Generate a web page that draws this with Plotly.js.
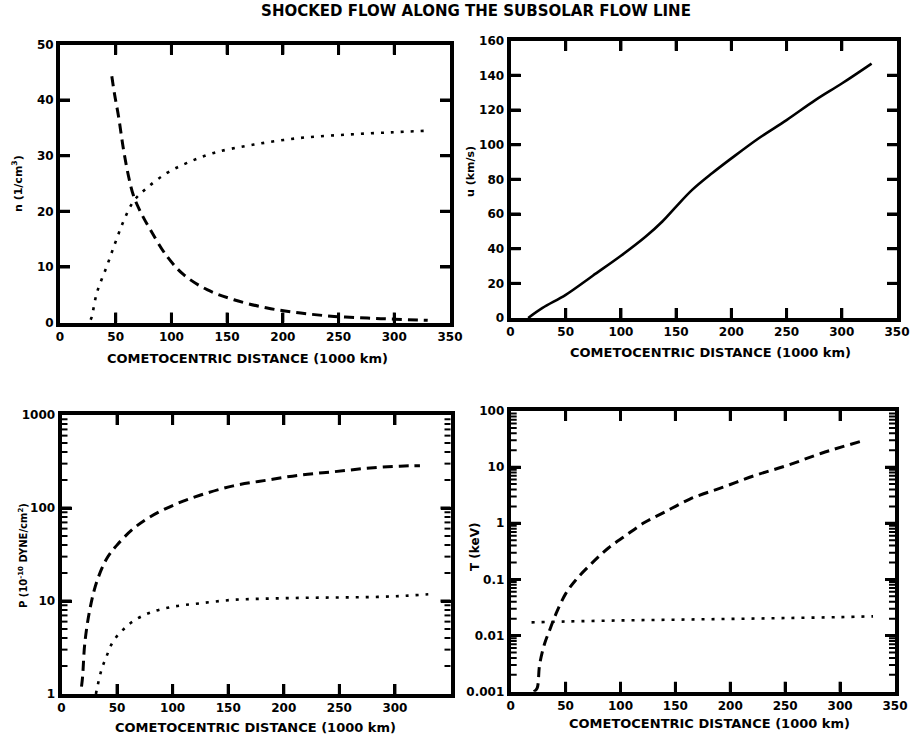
<!DOCTYPE html>
<html>
<head>
<meta charset="utf-8">
<script src="https://cdn.plot.ly/plotly-3.0.1.min.js"></script>
<style>html,body{margin:0;padding:0;background:#fff;}#chart{width:913px;height:741px;}</style>
</head>
<body>
<div id="chart"></div>
<script>
// ---- Data ----
// Panel 1: density n (1/cm^3)
const nDashX = [46.5, 49, 52.5, 57, 61.5, 66, 72, 81, 96, 111, 132, 156, 186, 216, 246, 276, 300, 330];
const nDashY = [44.3, 41, 37.1, 31.1, 26.3, 22.8, 20, 16.7, 11.9, 8.6, 5.9, 4.1, 2.6, 1.7, 1.1, 0.8, 0.6, 0.4];
const nDotX = [27.5, 28.5, 33, 42, 49.5, 57, 66, 78, 96, 114, 138, 174, 216, 258, 297, 330];
const nDotY = [0.5, 1, 5.3, 10.1, 14.3, 18.2, 21.8, 24.2, 26.9, 28.7, 30.5, 32, 33.2, 33.8, 34.2, 34.5];
// Panel 2: velocity u (km/s)
const uX = [16, 29, 50, 74.5, 100, 122.5, 137.5, 150, 164.5, 182.5, 200, 224.5, 250, 276, 300, 327];
const uY = [0, 5.8, 13.4, 24.4, 35.9, 47, 55.7, 64.3, 73.9, 83.5, 92.1, 103.6, 114.2, 125.7, 135.3, 146.8];
// Panel 3: pressure P (1e-10 dyne/cm^2)
const pDashX = [18, 19, 21, 25.5, 31.5, 40.5, 49.5, 64.5, 79.5, 100.5, 124.5, 154.5, 184.5, 214.5, 244.5, 274.5, 304.5, 322.5];
const pDashY = [1.2, 1.54, 3.54, 8.1, 15.8, 28.3, 39.4, 59.7, 80, 107, 137, 173, 199, 226, 245, 267, 282, 285];
const pDotX = [31, 32, 36, 40.5, 46.5, 55.5, 64.5, 79.5, 100.5, 124.5, 154.5, 184.5, 214.5, 244.5, 274.5, 304.5, 330];
const pDotY = [1.0, 1.15, 1.82, 2.54, 3.69, 4.93, 6.07, 7.48, 8.69, 9.44, 10.3, 10.6, 10.8, 10.9, 11.0, 11.3, 11.8];
// Panel 4: temperature T (keV)
const tDashX = [21, 24, 26.3, 30.7, 35.2, 41.2, 50.1, 59.1, 74, 89, 104, 121.8, 139.7, 163.6, 193.4, 223.3, 253, 283, 318.8];
const tDashY = [0.001, 0.00115, 0.003, 0.007, 0.0121, 0.0243, 0.0558, 0.097, 0.195, 0.363, 0.59, 1.03, 1.56, 2.72, 4.4, 7.2, 10.9, 17.7, 28.7];
const tDotX = [19, 50, 100, 150, 200, 250, 300, 330];
const tDotY = [0.0172, 0.0178, 0.0186, 0.0192, 0.0198, 0.0205, 0.0213, 0.0220];

// Tick values
const xTicks = [0, 50, 100, 150, 200, 250, 300, 350];
const xTicksP = [0, 50, 100, 150, 200, 250, 300];
const nTicks = [0, 10, 20, 30, 40, 50];
const uTicks = [0, 20, 40, 60, 80, 100, 120, 140, 160];
const pTicks = [1, 10, 100, 1000];
const tTicks = [0.001, 0.01, 0.1, 1, 10, 100];

const titleText = 'SHOCKED FLOW ALONG THE SUBSOLAR FLOW LINE';
const xTitle = 'COMETOCENTRIC DISTANCE (1000 km)';

// ---- Build ----
const W = 913, H = 741;
const px = x => x / W;
const py = y => 1 - y / H;

function minorLog(lo, hi) {
  const v = [];
  for (let e = lo; e < hi; e++) for (let m = 2; m <= 9; m++) v.push(m * Math.pow(10, e));
  return v;
}

const FONT = 'DejaVu Sans, Arial, sans-serif';
const dashStyle = {color: 'black', width: 3, dash: '10px,6px'};
const dotStyle = {color: 'black', width: 2.6, dash: '3px,7px'};

const traces = [
  {x: nDashX, y: nDashY, xaxis: 'x', yaxis: 'y', mode: 'lines', line: Object.assign({shape: 'spline'}, dashStyle)},
  {x: nDotX, y: nDotY, xaxis: 'x', yaxis: 'y', mode: 'lines', line: Object.assign({shape: 'spline'}, dotStyle)},
  {x: uX, y: uY, xaxis: 'x2', yaxis: 'y2', mode: 'lines', line: {color: 'black', width: 2.6, shape: 'spline'}},
  {x: pDashX, y: pDashY, xaxis: 'x3', yaxis: 'y3', mode: 'lines', line: Object.assign({shape: 'spline'}, dashStyle)},
  {x: pDotX, y: pDotY, xaxis: 'x3', yaxis: 'y3', mode: 'lines', line: Object.assign({shape: 'spline'}, dotStyle)},
  {x: tDashX, y: tDashY, xaxis: 'x4', yaxis: 'y4', mode: 'lines', line: Object.assign({shape: 'spline'}, dashStyle)},
  {x: tDotX, y: tDotY, xaxis: 'x4', yaxis: 'y4', mode: 'lines', line: Object.assign({shape: 'spline'}, dotStyle)}
];

const base = {
  showline: true, linewidth: 4, linecolor: 'black', mirror: 'ticks',
  ticks: 'inside', ticklen: 10, tickwidth: 3, tickcolor: 'black',
  showgrid: false, zeroline: false,
  tickfont: {family: FONT, size: 12, weight: 'bold', color: 'black'}
};

// panel domains (paper fractions)
const dX1 = [px(60), px(450)],    dY1 = [py(322.5), py(44.5)];
const dX2 = [px(510.5), px(897)], dY2 = [py(318), py(40.7)];
const dX3 = [px(61.5), px(450.5)], dY3 = [py(694), py(415)];
const dX4 = [px(510.7), px(895)], dY4 = [py(691.7), py(411)];

// inside tick marks on all four frame sides, placed through the axes' own scales
const shapes = [];
function xTickMarks(xref, vals, dY, len, w) {
  vals.forEach(v => {
    shapes.push({type: 'line', layer: 'above', xref: xref, yref: 'paper', x0: v, x1: v, y0: dY[0], y1: dY[0] + len / H, line: {color: 'black', width: w}});
    shapes.push({type: 'line', layer: 'above', xref: xref, yref: 'paper', x0: v, x1: v, y0: dY[1], y1: dY[1] - len / H, line: {color: 'black', width: w}});
  });
}
function yTickMarks(yref, vals, dX, len, w) {
  vals.forEach(v => {
    shapes.push({type: 'line', layer: 'above', xref: 'paper', yref: yref, x0: dX[0], x1: dX[0] + len / W, y0: v, y1: v, line: {color: 'black', width: w}});
    shapes.push({type: 'line', layer: 'above', xref: 'paper', yref: yref, x0: dX[1], x1: dX[1] - len / W, y0: v, y1: v, line: {color: 'black', width: w}});
  });
}
const inner = (arr) => arr.slice(1, -1);
xTickMarks('x', inner(xTicks), dY1, 10, 3);
xTickMarks('x2', inner(xTicks), dY2, 10, 3);
xTickMarks('x3', xTicksP.slice(1), dY3, 10, 3);
xTickMarks('x4', inner(xTicks), dY4, 10, 3);
yTickMarks('y', inner(nTicks), dX1, 10, 3);
yTickMarks('y2', inner(uTicks), dX2, 10, 3);
yTickMarks('y3', inner(pTicks), dX3, 10, 3);
yTickMarks('y4', inner(tTicks), dX4, 10, 3);
yTickMarks('y3', minorLog(0, 3), dX3, 6, 2);
yTickMarks('y4', minorLog(-3, 2), dX4, 6, 2);

const layout = {
  width: W, height: H,
  margin: {l: 0, r: 0, t: 0, b: 0},
  paper_bgcolor: 'white', plot_bgcolor: 'white',
  showlegend: false,
  title: {text: titleText, x: px(476), xanchor: 'center', xref: 'paper', y: py(11), yanchor: 'middle', yref: 'container',
          font: {family: FONT, size: 15, weight: 'bold', color: 'black'}},
  xaxis: Object.assign({}, base, {domain: dX1, range: [0, 350], anchor: 'y', tickmode: 'array', tickvals: xTicks}),
  yaxis: Object.assign({}, base, {domain: dY1, range: [0, 50], anchor: 'x', tickmode: 'array', tickvals: nTicks}),
  xaxis2: Object.assign({}, base, {domain: dX2, range: [0, 350], anchor: 'y2', tickmode: 'array', tickvals: xTicks}),
  yaxis2: Object.assign({}, base, {domain: dY2, range: [0, 160], anchor: 'x2', tickmode: 'array', tickvals: uTicks}),
  xaxis3: Object.assign({}, base, {domain: dX3, range: [0, 350], anchor: 'y3', tickmode: 'array', tickvals: xTicksP}),
  yaxis3: Object.assign({}, base, {domain: dY3, type: 'log', range: [0, 3], anchor: 'x3', tickmode: 'array', tickvals: pTicks}),
  xaxis4: Object.assign({}, base, {domain: dX4, range: [0, 350], anchor: 'y4', tickmode: 'array', tickvals: xTicks}),
  yaxis4: Object.assign({}, base, {domain: dY4, type: 'log', range: [-3, 2], anchor: 'x4', tickmode: 'array', tickvals: tTicks}),
  shapes: shapes,
  annotations: [
    {text: xTitle, x: px(247), y: py(358)},
    {text: xTitle, x: px(710), y: py(353)},
    {text: xTitle, x: px(255), y: py(727)},
    {text: xTitle, x: px(709), y: py(723)},
    {text: 'n (1/cm<sup>3</sup>)', x: px(17), y: py(184), textangle: -90, font: {family: FONT, size: 11, weight: 'bold', color: 'black'}},
    {text: 'u (km/s)', x: px(471), y: py(172), textangle: -90, font: {family: FONT, size: 11, weight: 'bold', color: 'black'}},
    {text: 'P (10<sup>-10</sup> DYNE/cm<sup>2</sup>)', x: px(23), y: py(556), textangle: -90, font: {family: FONT, size: 10, weight: 'bold', color: 'black'}},
    {text: 'T (keV)', x: px(475), y: py(547), textangle: -90, font: {family: FONT, size: 12, weight: 'bold', color: 'black'}}
  ].map(a => Object.assign({xref: 'paper', yref: 'paper', showarrow: false, xanchor: 'center', yanchor: 'middle',
          font: {family: FONT, size: 13, weight: 'bold', color: 'black'}}, a))
};

Plotly.newPlot('chart', traces, layout, {displayModeBar: false, staticPlot: true});
</script>
</body>
</html>
